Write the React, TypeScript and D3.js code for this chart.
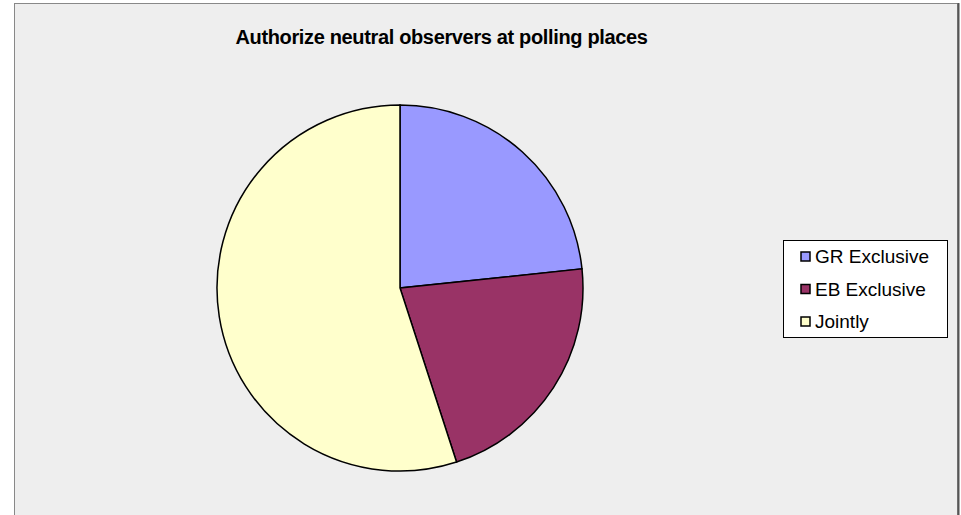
import React from "react";
import * as d3 from "d3";

const categories = ["GR Exclusive", "EB Exclusive", "Jointly"];
const values = [14, 13, 33];
const colors = ["#9999FF", "#993366", "#FFFFCC"];
const title = "Authorize neutral observers at polling places";

export default function App() {
  const W = 961, H = 515;
  const cx = 400, cy = 288, r = 183;
  const pie = d3.pie<number>().sort(null).value((d) => d)(values);
  const arc = d3.arc<d3.PieArcDatum<number>>().innerRadius(0).outerRadius(r);
  const legendX = 783, legendY = 240, rowH = 32.5;
  return (
    <svg width={W} height={H} style={{ position: "absolute", left: 0, top: 0 }}>
      <rect x={0} y={0} width={W} height={H} fill="#ffffff" />
      <rect x={14.5} y={3.5} width={943} height={H + 10} fill="#EEEEEE" stroke="#888" strokeWidth={1} />
      <line x1={958.5} y1={3} x2={958.5} y2={H} stroke="#555" strokeWidth={2} />
      <text x={441.5} y={44} textAnchor="middle" fontFamily="Liberation Sans, Arial, sans-serif" fontSize={20} fontWeight="bold" letterSpacing={-0.35} fill="#000">
        {title}
      </text>
      <g transform={`translate(${cx},${cy})`}>
        {pie.map((p, i) => (
          <path key={i} d={arc(p) || ""} fill={colors[i]} stroke="#000" strokeWidth={1.5} />
        ))}
      </g>
      <rect x={legendX + 0.5} y={legendY + 0.5} width={164} height={97} fill="#fff" stroke="#000" strokeWidth={1} />
      {categories.map((c, i) => {
        const y = legendY + 16.5 + i * rowH;
        return (
          <g key={c}>
            <rect x={801} y={y - 4.5} width={9} height={9} fill={colors[i]} stroke="#000" strokeWidth={1.5} />
            <text x={815} y={y + 6.5} fontFamily="Liberation Sans, Arial, sans-serif" fontSize={19} fill="#000">
              {c}
            </text>
          </g>
        );
      })}
    </svg>
  );
}
